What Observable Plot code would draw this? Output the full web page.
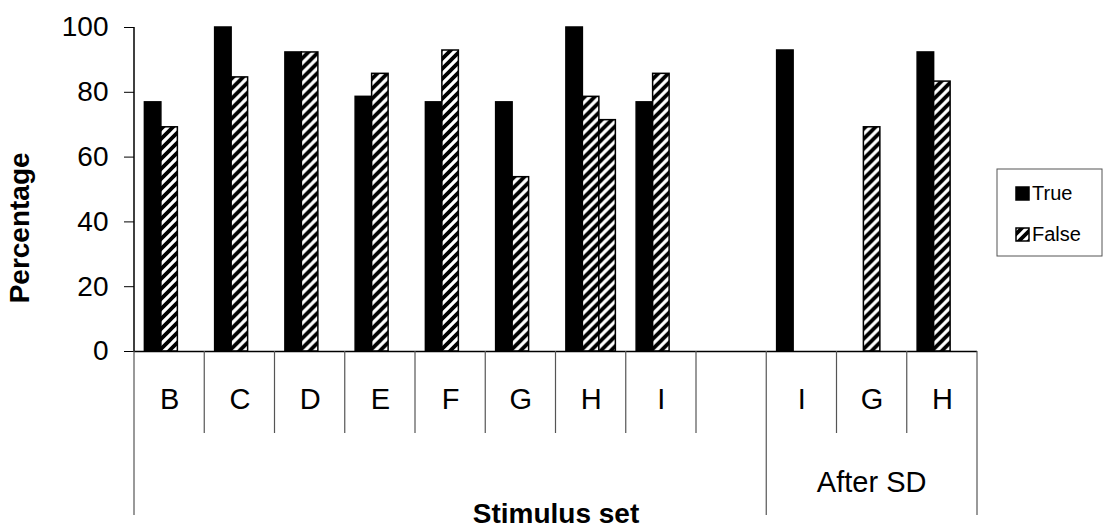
<!DOCTYPE html>
<html><head><meta charset="utf-8">
<script src="https://cdn.jsdelivr.net/npm/d3@7"></script>
<script src="https://cdn.jsdelivr.net/npm/@observablehq/plot@0.6"></script>
<style>body{margin:0;background:#fff;}</style>
</head><body><div id="chart"></div>
<script>
// ---- data ----
const slotLabels = ["B","C","D","E","F","G","H","I","","I","G","H"];
const trueValues = [76.9, 100, 92.3, 78.6, 76.9, 76.9, 100, 76.9, null, 92.9, null, 92.3];
const falseValues = [69.2, 84.6, 92.3, 85.7, 92.9, 53.8, 78.6, 85.7, null, null, 69.2, 83.3];
const extraFalseValues = [null, null, null, null, null, null, 71.4, null, null, null, null, null];
const seriesKeys = ["True", "False", "False (2)"];
const legendLabels = ["True", "False"];
const yTicks = [0, 20, 40, 60, 80, 100];
const groupLabel = "After SD";
const groupSlots = [9, 11];
const yLabel = "Percentage";
const xLabel = "Stimulus set";

// one row per slot and series (null values draw nothing but keep every facet present)
const rows = [];
slotLabels.forEach((_, i) => {
  [trueValues, falseValues, extraFalseValues].forEach((arr, s) => {
    rows.push({slot: i, series: seriesKeys[s], value: arr[i]});
  });
});
const slots = d3.range(slotLabels.length);
const font = "'Liberation Sans', Arial, sans-serif";

const chart = Plot.plot({
  width: 1103, height: 529,
  marginLeft: 134, marginRight: 126, marginTop: 27, marginBottom: 178,
  style: {fontFamily: font, color: "black", background: "white", overflow: "visible"},
  fx: {domain: slots, paddingInner: 0, paddingOuter: 0, round: false},
  x: {domain: seriesKeys, paddingInner: 0, paddingOuter: 0.63, round: false, axis: null},
  y: {domain: [0, 100]},
  color: {domain: seriesKeys, range: ["black", "url(#hatch)", "url(#hatch)"]},
  marks: [
    Plot.barY(rows, {fx: "slot", x: "series", y: "value", fill: "series", stroke: "black", strokeWidth: 1.5}),
    Plot.ruleY([0], {stroke: "black", strokeWidth: 1.5}),
    Plot.axisY({ticks: yTicks, tickSize: 10, tickPadding: 16, fontSize: 28, label: null}),
    Plot.axisFx({anchor: "bottom", tickSize: 0, tickPadding: 37, fontSize: 29, tickFormat: i => slotLabels[i], label: xLabel, labelAnchor: "center", labelOffset: 171, labelArrow: "none"})
  ]
});

document.getElementById("chart").appendChild(chart);
const svg = d3.select(chart);
svg.insert("defs", ":first-child").html(
  `<pattern id="hatch" patternUnits="userSpaceOnUse" width="10" height="10">
     <rect width="10" height="10" fill="white"/>
     <path d="M-3,3 l6,-6 M0,10 l10,-10 M7,13 l6,-6" stroke="black" stroke-width="3.8"/>
   </pattern>`);

svg.selectAll('g[aria-label="fx-axis label"] text')
  .attr("font-weight", "bold").attr("font-size", 28);

// y title, category table lines and group label, placed from Plot's scales
const fxScale = chart.scale("fx"), yScale = chart.scale("y");
const bw = fxScale.bandwidth;
const yBase = yScale.apply(0), yTop = yScale.apply(100);
svg.append("text")
  .attr("transform", `translate(${fxScale.apply(0) - 105},${yScale.apply(38)}) rotate(-90)`)
  .attr("text-anchor", "middle").attr("font-weight", "bold").attr("font-size", 28)
  .attr("font-family", font).text(yLabel);

const g = svg.append("g").attr("stroke", "#555").attr("stroke-width", 1.2);
const xEnd = fxScale.apply(slots[slots.length - 1]) + bw;
g.append("line").attr("x1", fxScale.apply(0)).attr("x2", fxScale.apply(0)).attr("y1", yTop).attr("y2", yBase).attr("stroke", "black").attr("stroke-width", 1.5);
slots.forEach(i => {
  const x = fxScale.apply(i);
  const long = i === 0 || i === groupSlots[0];
  g.append("line").attr("x1", x).attr("x2", x).attr("y1", yBase).attr("y2", yBase + (long ? 164 : 82));
});
g.append("line").attr("x1", xEnd).attr("x2", xEnd).attr("y1", yBase).attr("y2", yBase + 164);
svg.append("text")
  .attr("x", (fxScale.apply(groupSlots[0]) + fxScale.apply(groupSlots[1]) + bw) / 2)
  .attr("y", yBase + 131).attr("dy", "0.35em")
  .attr("text-anchor", "middle").attr("font-size", 29).attr("font-family", font)
  .text(groupLabel);

// legend
const lg = svg.append("g").attr("font-family", font).attr("font-size", 20).attr("text-anchor", "start");
lg.append("rect").attr("x", 997).attr("y", 169).attr("width", 105).attr("height", 87)
  .attr("fill", "white").attr("stroke", "#555");
legendLabels.forEach((lab, k) => {
  const yy = 187 + k * 41;
  lg.append("rect").attr("x", 1016).attr("y", yy).attr("width", 13).attr("height", 13)
    .attr("fill", k === 0 ? "black" : "url(#hatch)").attr("stroke", "black").attr("stroke-width", 1.5);
  lg.append("text").attr("x", 1032).attr("y", yy + 13).text(lab);
});
</script>
</body></html>
